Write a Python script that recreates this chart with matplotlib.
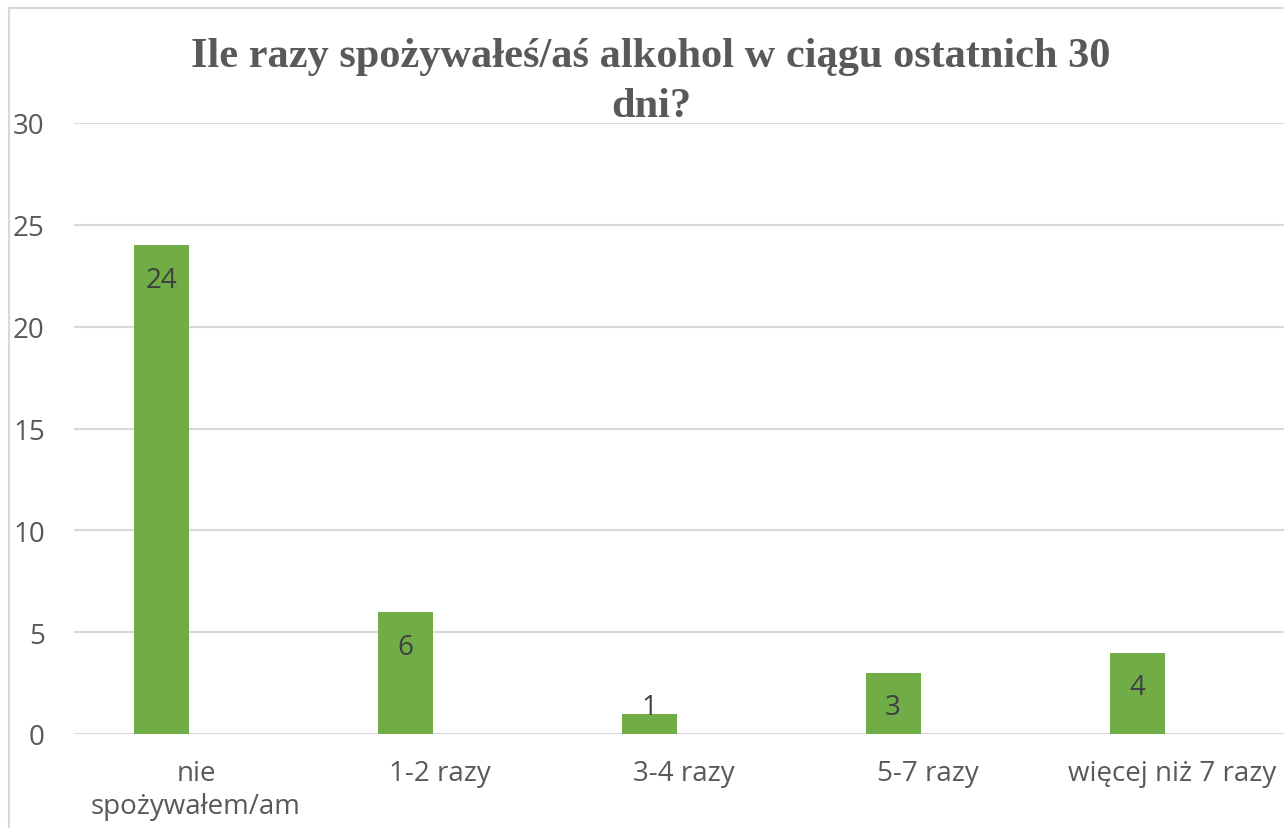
import matplotlib.pyplot as plt
from matplotlib.patches import Rectangle

# dane
kategorie = ["nie\nspożywałem/am", "1-2 razy", "3-4 razy", "5-7 razy", "więcej niż 7 razy"]
wartosci = [24, 6, 1, 3, 4]
yticks = [0, 5, 10, 15, 20, 25, 30]
tytul = "Ile razy spożywałeś/aś alkohol w ciągu ostatnich 30\ndni?"

szary = "#595959"
siatka = "#d9d9d9"
zielony = "#70ad47"

fig = plt.figure(figsize=(12.84, 8.29), dpi=100)
ax = fig.add_axes([74 / 1284, 94 / 829, 1220 / 1284, 611 / 829])

# ramka wykresu
fig.patches.append(Rectangle((9 / 1284, -0.1), 1.2, 0.1 + 820 / 829, transform=fig.transFigure,
                             fill=False, edgecolor=siatka, linewidth=1.5))

x = list(range(len(kategorie)))
pozycje = [i - 0.143 for i in x]
ax.bar(pozycje, wartosci, width=0.225, color=zielony, zorder=3)

for px, v in zip(pozycje, wartosci):
    ax.text(px, max(v - 2.05, 1.0), str(v), ha="center", va="baseline",
            fontsize=20, color="#404040", family="Open Sans", zorder=4)

ax.set_xlim(-0.5, 4.5)
ax.set_ylim(0, 30)
ax.set_yticks(yticks)
ax.set_xticks(x)
ax.set_xticklabels(kategorie, fontsize=20, color=szary, family="Open Sans", linespacing=1.25)
ax.set_yticklabels([str(t) for t in yticks], fontsize=20, color=szary, family="Open Sans")
ax.tick_params(axis="y", length=0, pad=21)
ax.tick_params(axis="x", length=0, pad=18)
ax.grid(axis="y", color=siatka, linewidth=1.5, zorder=0)
for s in ax.spines.values():
    s.set_visible(False)

fig.text(651 / 1284, 1 - 117 / 829, tytul, ha="center", va="baseline", fontsize=30.5,
         fontweight="bold", family="Liberation Serif", color=szary, linespacing=1.4)

fig.savefig("out.png", dpi=100)
